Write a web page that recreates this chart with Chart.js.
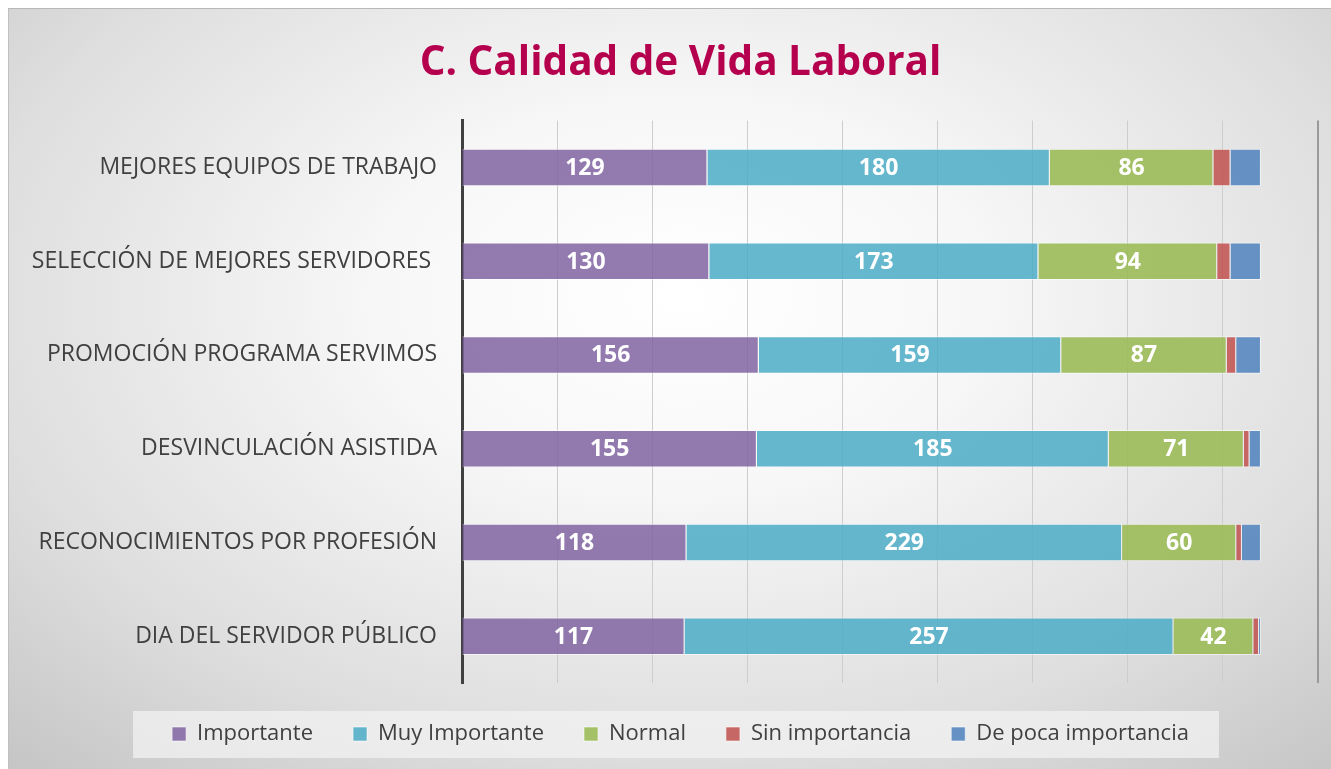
<!DOCTYPE html>
<html>
<head>
<meta charset="utf-8">
<script src="https://cdn.jsdelivr.net/npm/chart.js@4/dist/chart.umd.min.js"></script>
<style>
  html, body { margin: 0; padding: 0; background: #fff; overflow: hidden; }
  .frame {
    position: absolute; left: 8px; top: 8px; width: 1344px; height: 761px;
    border-top: 1px solid #b8b8b8; border-left: 1px solid #c0c0c0;
    background: radial-gradient(ellipse 75% 85% at 50% 38%, #ffffff 0%, #f7f7f7 30%, #dedede 70%, #c4c4c4 100%);
    box-sizing: border-box;
  }
  canvas { display: block; }
</style>
</head>
<body>
<div class="frame">
  <canvas id="vidaChart" width="1343" height="760"></canvas>
</div>
<script>
// categories (top to bottom)
const categorias = [
  'MEJORES EQUIPOS DE TRABAJO',
  'SELECCIÓN DE MEJORES SERVIDORES ',
  'PROMOCIÓN PROGRAMA SERVIMOS',
  'DESVINCULACIÓN ASISTIDA',
  'RECONOCIMIENTOS POR PROFESIÓN',
  'DIA DEL SERVIDOR PÚBLICO'
];

// series values
const importante = [129, 130, 156, 155, 118, 117];
const muyImportante = [180, 173, 159, 185, 229, 257];
const normal = [86, 94, 87, 71, 60, 42];
const sinImportancia = [9, 7, 5, 3, 3, 3];
const pocaImportancia = [16, 16, 13, 6, 10, 1];

const xMax = 450;
const xStep = 50;

// labels only on the three big series
const barLabels = {
  id: 'barLabels',
  afterDatasetsDraw(chart) {
    const ctx = chart.ctx;
    ctx.save();
    ctx.font = 'bold 23px "Open Sans"';
    ctx.fillStyle = '#ffffff';
    ctx.textAlign = 'center';
    ctx.textBaseline = 'middle';
    [0, 1, 2].forEach(i => {
      const meta = chart.getDatasetMeta(i);
      meta.data.forEach((bar, j) => {
        const v = chart.data.datasets[i].data[j];
        ctx.fillText(String(v), (bar.x + bar.base) / 2, bar.y + 1);
      });
    });
    ctx.restore();
  }
};

// light box behind the legend
const legendBox = {
  id: 'legendBox',
  beforeDraw(chart) {
    const lg = chart.legend;
    if (!lg || !lg.legendHitBoxes || !lg.legendHitBoxes.length) return;
    const boxes = lg.legendHitBoxes;
    const left = Math.min(...boxes.map(b => b.left)) - 39;
    const right = Math.max(...boxes.map(b => b.left + b.width)) + 30;
    const top = boxes[0].top - 12;
    const ctx = chart.ctx;
    ctx.save();
    ctx.fillStyle = 'rgba(242,242,242,0.75)';
    ctx.fillRect(left, top, right - left, 47);
    ctx.restore();
  }
};

new Chart(document.getElementById('vidaChart'), {
  type: 'bar',
  data: {
    labels: categorias,
    datasets: [
      { label: 'Importante', data: importante, backgroundColor: 'rgba(128,100,162,0.85)' },
      { label: 'Muy Importante', data: muyImportante, backgroundColor: 'rgba(75,172,198,0.85)' },
      { label: 'Normal', data: normal, backgroundColor: 'rgba(155,187,89,0.9)' },
      { label: 'Sin importancia', data: sinImportancia, backgroundColor: 'rgba(192,80,77,0.85)' },
      { label: 'De poca importancia', data: pocaImportancia, backgroundColor: 'rgba(79,129,189,0.85)' }
    ].map(d => Object.assign(d, {
      borderColor: 'rgba(255,255,255,0.55)',
      borderWidth: 1,
      categoryPercentage: 1,
      barPercentage: 0.4
    }))
  },
  options: {
    indexAxis: 'y',
    responsive: false,
    animation: false,
    layout: { padding: { left: 0, right: 0, top: 0, bottom: 14 } },
    scales: {
      x: {
        stacked: true,
        min: 0,
        max: xMax,
        ticks: { display: false, stepSize: xStep },
        grid: {
          color: c => (c.tick && c.tick.value === xMax ? '#9a9a9a' : '#cdcdcd'),
          lineWidth: c => (c.tick && c.tick.value === xMax ? 2 : 1),
          drawTicks: false
        },
        border: { display: false }
      },
      y: {
        stacked: true,
        grid: { display: false, drawTicks: false },
        border: { color: '#404040', width: 3 },
        ticks: { color: '#404040', font: { family: 'Open Sans', size: 23 }, padding: 25 },
        afterFit: s => { s.width = 453; }
      },
      // empty margin on the right so title and legend stay centred
      yRight: {
        type: 'category',
        labels: categorias,
        position: 'right',
        ticks: { display: false },
        grid: { display: false, drawTicks: false },
        border: { display: false },
        afterFit: s => { s.width = 34; }
      }
    },
    plugins: {
      title: {
        display: true,
        text: 'C. Calidad de Vida Laboral',
        color: '#b5004e',
        font: { family: 'Open Sans', size: 40.5, weight: 'bold' },
        padding: { top: 30, bottom: 33 }
      },
      legend: {
        position: 'bottom',
        labels: {
          color: '#404040',
          font: { family: 'Open Sans', size: 22 },
          boxWidth: 14,
          boxHeight: 14,
          padding: 40
        }
      },
      tooltip: { enabled: false }
    }
  },
  plugins: [barLabels, legendBox]
});
</script>
</body>
</html>
